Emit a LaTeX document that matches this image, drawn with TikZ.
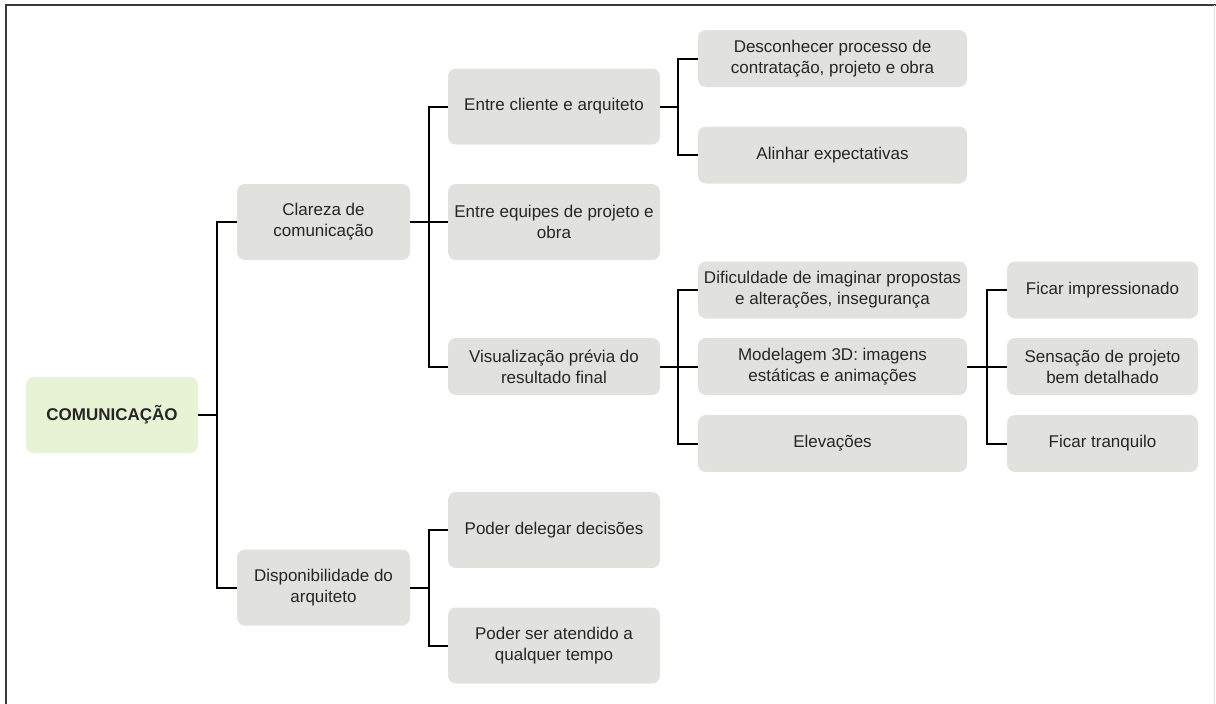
\documentclass[tikz,border=0pt]{standalone}
\usepackage{fontspec}
\setmainfont{Liberation Sans}
\definecolor{boxgray}{HTML}{E1E1DE}
\definecolor{rootgreen}{HTML}{E8F3D6}
\definecolor{txt}{HTML}{262626}
\definecolor{framedark}{HTML}{3A3A3A}
\definecolor{framelight}{HTML}{DDDDDD}
\tikzset{
  card/.style={fill=boxgray, rounded corners=8pt, inner sep=0pt, align=center,
    text=txt, font=\fontsize{17}{21}\selectfont},
  rootcard/.style={card, fill=rootgreen, font=\fontsize{17}{21}\selectfont\bfseries},
  wide/.style={minimum width=212pt},
  leafw/.style={minimum width=269pt},
  tipw/.style={minimum width=191pt},
  tall/.style={minimum height=76pt},
  short/.style={minimum height=57pt},
  link/.style={line width=2pt, black}
}
\begin{document}
\begin{tikzpicture}[x=1pt, y=-1pt]
\useasboundingbox (0,0) rectangle (1216,704);
% page frame
\draw[framedark, line width=1.5pt] (6,704) -- (6,5) -- (1216,5);
\draw[framelight, line width=1pt] (1214.5,5) -- (1214.5,704);

% root
\node[rootcard, minimum width=172pt, tall] (root) at (112,415) {COMUNICAÇÃO};

% first level
\node[card, minimum width=173pt, tall] (clar) at (323.5,222) {Clareza de\\comunicação};
\node[card, minimum width=173pt, tall] (disp) at (323.5,587.5) {Disponibilidade do\\arquiteto};

% second level
\node[card, wide, tall] (ecli) at (554,106.5) {Entre cliente e arquiteto};
\node[card, wide, tall] (eequ) at (554,222) {Entre equipes de projeto e\\obra};
\node[card, wide, short] (visu) at (554,366.5) {Visualização prévia do\\resultado final};
\node[card, wide, tall] (pdel) at (554,530) {Poder delegar decisões};
\node[card, wide, tall] (pser) at (554,645.5) {Poder ser atendido a\\qualquer tempo};

% third level
\node[card, leafw, short] (desc) at (832.5,58.5) {Desconhecer processo de\\contratação, projeto e obra};
\node[card, leafw, short] (alin) at (832.5,155) {Alinhar expectativas};
\node[card, leafw, short] (difi) at (832.5,290) {Dificuldade de imaginar propostas\\e alterações, insegurança};
\node[card, leafw, short] (mode) at (832.5,366.5) {Modelagem 3D: imagens\\estáticas e animações};
\node[card, leafw, short] (elev) at (832.5,443.5) {Elevações};

% fourth level
\node[card, tipw, short] (fimp) at (1102.5,290) {Ficar impressionado};
\node[card, tipw, short] (sens) at (1102.5,366.5) {Sensação de projeto\\bem detalhado};
\node[card, tipw, short] (ftra) at (1102.5,443.5) {Ficar tranquilo};

% connectors
\draw[link] (root.east) -- ++(19,0) |- (clar.west);
\draw[link] (root.east) -- ++(19,0) |- (disp.west);

\draw[link] (clar.east) -- (eequ.west);
\draw[link] (clar.east) -- ++(19,0) |- (ecli.west);
\draw[link] (clar.east) -- ++(19,0) |- (visu.west);

\draw[link] (disp.east) -- ++(19,0) |- (pdel.west);
\draw[link] (disp.east) -- ++(19,0) |- (pser.west);

\draw[link] (ecli.east) -- ++(18,0) |- (desc.west);
\draw[link] (ecli.east) -- ++(18,0) |- (alin.west);

\draw[link] (visu.east) -- (mode.west);
\draw[link] (visu.east) -- ++(18,0) |- (difi.west);
\draw[link] (visu.east) -- ++(18,0) |- (elev.west);

\draw[link] (mode.east) -- (sens.west);
\draw[link] (mode.east) -- ++(20,0) |- (fimp.west);
\draw[link] (mode.east) -- ++(20,0) |- (ftra.west);
\end{tikzpicture}
\end{document}
